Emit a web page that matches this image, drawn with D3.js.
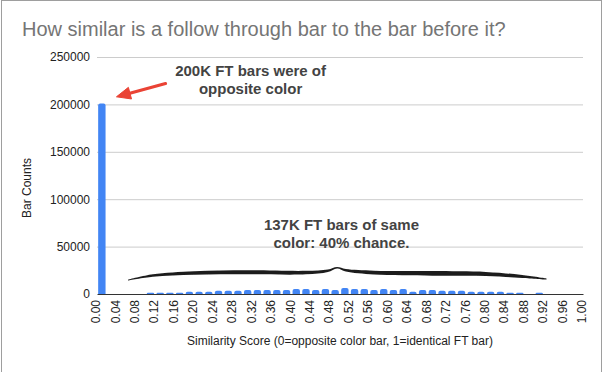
<!DOCTYPE html>
<html>
<head>
<meta charset="utf-8">
<script src="https://cdn.jsdelivr.net/npm/d3@7"></script>
<style>
  body { margin: 0; background: #fff; }
  svg { display: block; font-family: "Liberation Sans", Arial, sans-serif; }
</style>
</head>
<body>
<div id="chart"></div>
<script>
// histogram bins (left edge of each 0.02 wide bin)
const binStarts = [0.00, 0.02, 0.04, 0.06, 0.08, 0.10, 0.12, 0.14, 0.16, 0.18,
                   0.20, 0.22, 0.24, 0.26, 0.28, 0.30, 0.32, 0.34, 0.36, 0.38,
                   0.40, 0.42, 0.44, 0.46, 0.48, 0.50, 0.52, 0.54, 0.56, 0.58,
                   0.60, 0.62, 0.64, 0.66, 0.68, 0.70, 0.72, 0.74, 0.76, 0.78,
                   0.80, 0.82, 0.84, 0.86, 0.88, 0.90, 0.92, 0.94, 0.96, 0.98];
const barCounts = [201000, 0, 0, 0, 0, 1300, 1300, 1300, 1300, 2300,
                   2300, 2300, 3300, 3300, 3300, 4300, 4300, 4300, 4300, 4300,
                   5300, 5300, 4300, 5300, 4300, 6200, 5300, 5300, 4300, 5300,
                   4300, 5300, 2300, 4300, 4300, 3300, 3300, 3300, 2300, 2300,
                   2300, 2300, 1300, 1300, 0, 1300, 0, 0, 0, 0];
const xTicks = [0.00, 0.04, 0.08, 0.12, 0.16, 0.20, 0.24, 0.28, 0.32, 0.36, 0.40, 0.44, 0.48,
                0.52, 0.56, 0.60, 0.64, 0.68, 0.72, 0.76, 0.80, 0.84, 0.88, 0.92, 0.96, 1.00];
const yTicks = [0, 50000, 100000, 150000, 200000, 250000];

const titleText = 'How similar is a follow through bar to the bar before it?';
const xTitle = 'Similarity Score (0=opposite color bar, 1=identical FT bar)';
const yTitle = 'Bar Counts';
const note1 = ['200K FT bars were of', 'opposite color'];
const note2 = ['137K FT bars of same', 'color: 40% chance.'];

const width = 603, height = 372;
const margin = {top: 57, right: 20, bottom: 78, left: 97};
const binWidth = 0.02;

const svg = d3.select('#chart').append('svg')
  .attr('width', width)
  .attr('height', height);

// outer frame (left / top / right edges visible)
svg.append('rect')
  .attr('x', 1.5).attr('y', 0.5)
  .attr('width', 600).attr('height', 400)
  .attr('fill', 'none')
  .attr('stroke', '#9e9e9e');

const x = d3.scaleLinear().domain([0, 1]).range([margin.left, width - margin.right]);
const y = d3.scaleLinear().domain([0, 250000]).range([height - margin.bottom, margin.top]);

// title
svg.append('text')
  .attr('x', 22).attr('y', 36)
  .attr('font-size', 20)
  .attr('fill', '#757575')
  .text(titleText);

// gridlines
svg.append('g')
  .attr('transform', `translate(${margin.left},0)`)
  .call(d3.axisLeft(y).tickValues(yTicks.slice(1)).tickSize(-(x.range()[1] - x.range()[0])).tickFormat(''))
  .call(g => g.select('.domain').remove())
  .call(g => g.selectAll('.tick line').attr('stroke', '#cccccc'));

// y labels
svg.append('g')
  .attr('transform', `translate(${margin.left},0)`)
  .call(d3.axisLeft(y).tickValues(yTicks).tickSize(0).tickPadding(7).tickFormat(d3.format('d')))
  .call(g => g.select('.domain').remove())
  .call(g => g.selectAll('.tick text')
              .attr('font-size', 12)
              .attr('font-family', null)
              .attr('fill', '#222'));

// bars, rounded top corners
function barPath(cx, w, top, bottom, r){
  r = Math.min(r, bottom - top, w / 2);
  let l = cx - w / 2, rt = cx + w / 2;
  return `M${l},${bottom}V${top + r}Q${l},${top} ${l + r},${top}H${rt - r}Q${rt},${top} ${rt},${top + r}V${bottom}Z`;
}
const barW = 7.4;
svg.append('g')
  .selectAll('path')
  .data(binStarts.map((b, i) => ({b: b, v: barCounts[i]})).filter(d => d.v > 0))
  .enter().append('path')
  .attr('fill', '#4285f4')
  .attr('d', d => barPath(x(d.b + binWidth / 2), barW, y(d.v), y(0), 2));

// x axis
svg.append('g')
  .attr('transform', `translate(0,${y(0)})`)
  .call(d3.axisBottom(x).tickValues(xTicks).tickSize(0).tickSizeOuter(0).tickFormat(d3.format('.2f')))
  .call(g => g.select('.domain').attr('stroke', '#333'))
  .call(g => g.selectAll('.tick text')
              .attr('font-size', 12)
              .attr('font-family', null)
              .attr('fill', '#222')
              .attr('x', 0)
              .attr('y', 0)
              .attr('dy', '0.22em')
              .attr('text-anchor', 'end')
              .attr('transform', 'translate(0,6) rotate(-90)'));

// axis titles
svg.append('text')
  .attr('x', (x.range()[0] + x.range()[1]) / 2)
  .attr('y', 345)
  .attr('text-anchor', 'middle')
  .attr('font-size', 12)
  .attr('fill', '#222')
  .text(xTitle);
svg.append('text')
  .attr('transform', 'translate(30.5,188) rotate(-90)')
  .attr('text-anchor', 'middle')
  .attr('font-size', 12)
  .attr('fill', '#222')
  .text(yTitle);

// annotation: arrow to the 0.00 bar
const tail = [x(0.141), y(222000)], tip = [x(0.04), y(208000)];
let dx = tip[0] - tail[0], dy = tip[1] - tail[1], len = Math.hypot(dx, dy);
let ux = dx / len, uy = dy / len;
let headL = 14, headW = 6;
let base = [tip[0] - ux * headL, tip[1] - uy * headL];
svg.append('line')
  .attr('x1', tail[0]).attr('y1', tail[1])
  .attr('x2', base[0] + ux * 2).attr('y2', base[1] + uy * 2)
  .attr('stroke', '#ea4335')
  .attr('stroke-width', 3.2)
  .attr('stroke-linecap', 'round');
svg.append('path')
  .attr('fill', '#ea4335')
  .attr('stroke', '#ea4335')
  .attr('stroke-linejoin', 'round')
  .attr('d', `M${tip[0]},${tip[1]}L${base[0] - uy * headW},${base[1] + ux * headW}L${base[0] + uy * headW},${base[1] - ux * headW}Z`);

function drawNote(lines, cx, ys){
  svg.append('g')
    .selectAll('text')
    .data(lines)
    .enter().append('text')
    .attr('x', cx)
    .attr('y', (d, i) => ys[i])
    .attr('text-anchor', 'middle')
    .attr('font-size', 15)
    .attr('font-weight', 'bold')
    .attr('fill', '#434343')
    .text(d => d);
}
drawNote(note1, x(0.316), [y(230000), y(211000)]);
drawNote(note2, x(0.503), [y(67000), y(48000)]);

// hand drawn brace over the 0.10 - 0.92 bars
const brace = [
  {v: 0.064, c: 14700, t: 1},
  {v: 0.115, c: 19500, t: 2.5},
  {v: 0.2,   c: 22200, t: 3.5},
  {v: 0.31,  c: 22900, t: 4},
  {v: 0.43,  c: 22600, t: 3.5},
  {v: 0.475, c: 24500, t: 2.5},
  {v: 0.494, c: 27800, t: 1.5},
  {v: 0.512, c: 25000, t: 2.5},
  {v: 0.57,  c: 22600, t: 3.8},
  {v: 0.69,  c: 21800, t: 4.6},
  {v: 0.8,   c: 21200, t: 4},
  {v: 0.875, c: 18500, t: 3},
  {v: 0.925, c: 15800, t: 1.2}
];
const defs = svg.append('defs');
defs.append('filter').attr('id', 'soft')
  .append('feGaussianBlur').attr('stdDeviation', 0.45);
svg.append('path')
  .attr('fill', '#1e1e1e')
  .attr('filter', 'url(#soft)')
  .attr('d', d3.area()
               .x(d => x(d.v))
               .y0(d => y(d.c) + d.t / 2)
               .y1(d => y(d.c) - d.t / 2)
               .curve(d3.curveCatmullRom)(brace));
</script>
</body>
</html>
